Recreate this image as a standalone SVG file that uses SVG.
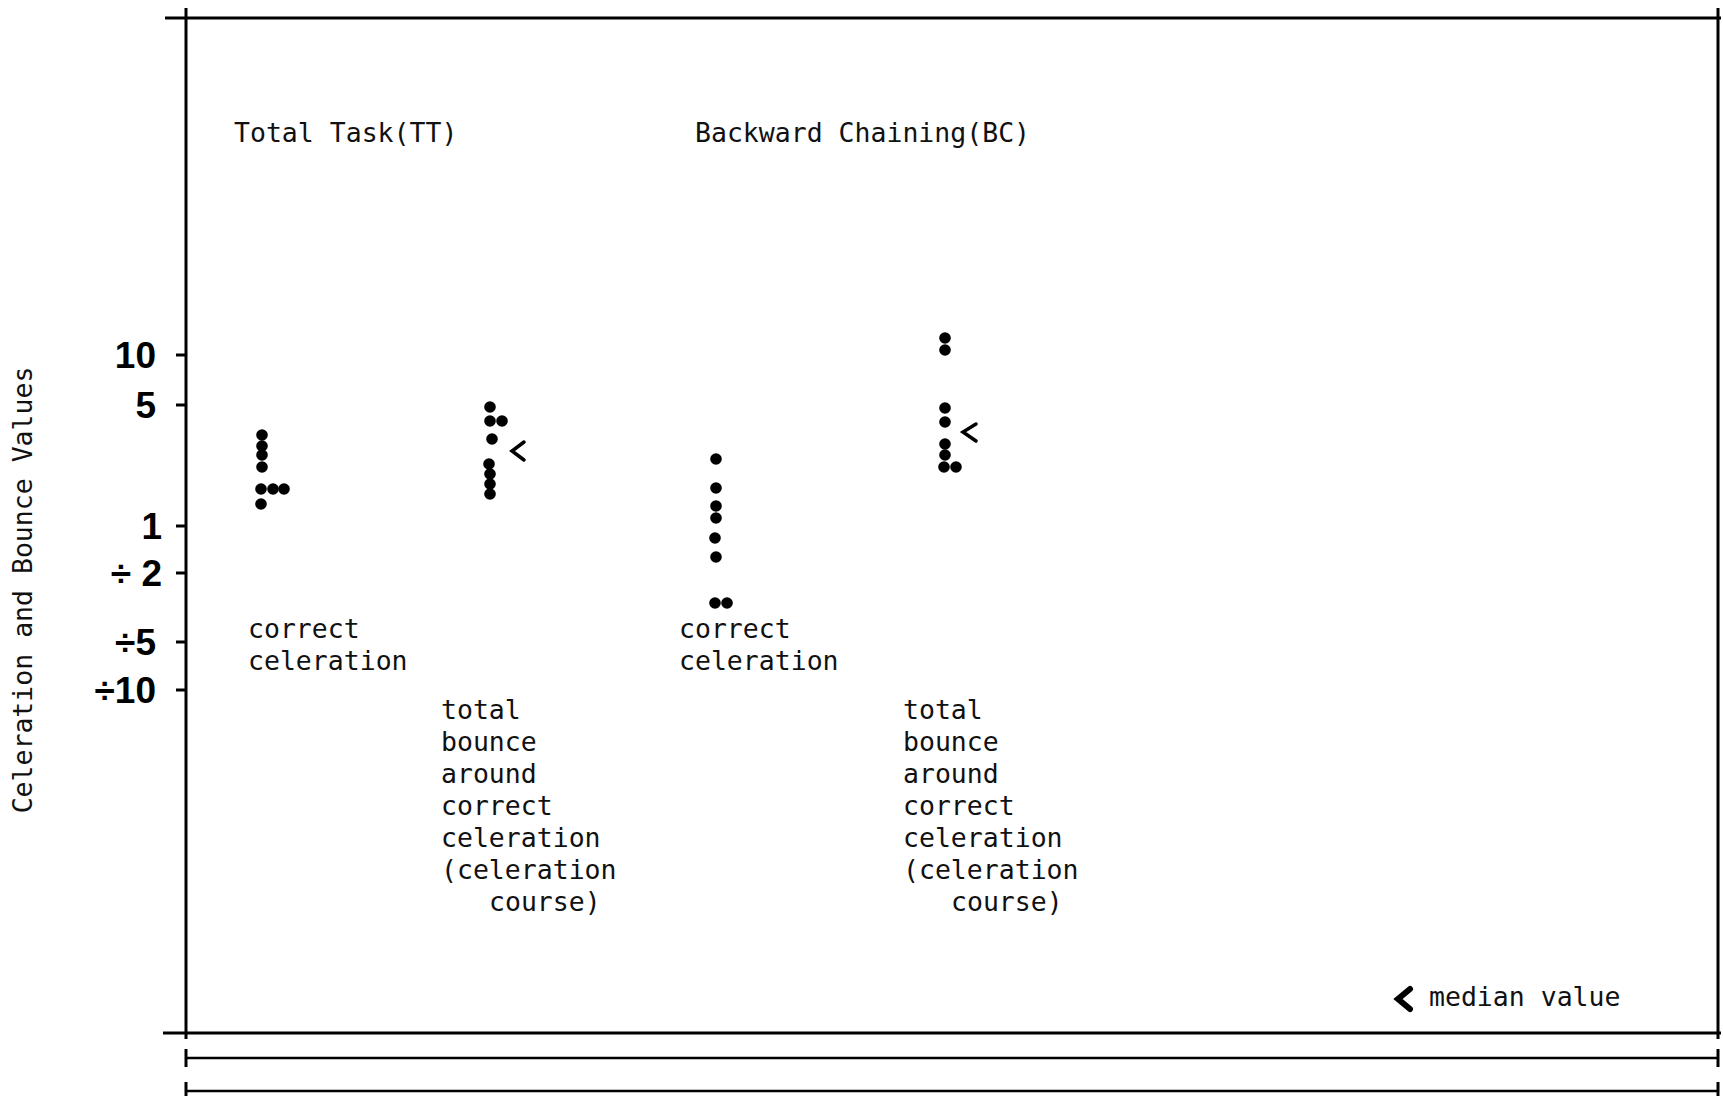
<svg xmlns="http://www.w3.org/2000/svg" width="1723" height="1096" viewBox="0 0 1723 1096">
<style>
.ln{stroke:#000;stroke-width:3;fill:none;stroke-linecap:butt}
.ln2{stroke:#000;stroke-width:2.5;fill:none}
.t{font-family:"DejaVu Sans Mono","Liberation Mono",monospace;font-size:26.5px;fill:#111}
.ax{font-family:"Liberation Sans",Arial,sans-serif;font-weight:bold;font-size:37px;fill:#000;text-anchor:end}
.d{fill:#000}
.chev{stroke:#000;stroke-width:3.5;fill:none;stroke-linecap:round;stroke-linejoin:miter}
</style>
<rect width="1723" height="1096" fill="#fff"/>
<g id="frame">
<line class="ln" x1="165" y1="18" x2="1721" y2="18"/>
<line class="ln" x1="186" y1="8" x2="186" y2="1039"/>
<line class="ln" x1="1718" y1="8" x2="1718" y2="1039"/>
<line class="ln" x1="163" y1="1033" x2="1721" y2="1033"/>
<line class="ln2" x1="186" y1="1058" x2="1718" y2="1058"/>
<line class="ln" x1="186" y1="1049" x2="186" y2="1067"/>
<line class="ln" x1="1718" y1="1049" x2="1718" y2="1067"/>
<line class="ln2" x1="186" y1="1091" x2="1718" y2="1091"/>
<line class="ln" x1="186" y1="1082" x2="186" y2="1096"/>
<line class="ln" x1="1718" y1="1082" x2="1718" y2="1096"/>
</g>
<g id="y-axis">
<line class="ln" x1="176" y1="355" x2="186" y2="355"/>
<line class="ln" x1="176" y1="405" x2="186" y2="405"/>
<line class="ln" x1="176" y1="526" x2="186" y2="526"/>
<line class="ln" x1="176" y1="573" x2="186" y2="573"/>
<line class="ln" x1="176" y1="642" x2="186" y2="642"/>
<line class="ln" x1="176" y1="690" x2="186" y2="690"/>
<text class="ax" x="156" y="368">10</text>
<text class="ax" x="156" y="418">5</text>
<text class="ax" x="162" y="539">1</text>
<text class="ax" x="162" y="586">÷ 2</text>
<text class="ax" x="156" y="655">÷5</text>
<text class="ax" x="156" y="703">÷10</text>
<text class="t" fill="#333" text-anchor="middle" transform="translate(32,590) rotate(-90)">Celeration and Bounce Values</text>
</g>
<g id="titles">
<text class="t" x="234" y="142">Total Task(TT)</text>
<text class="t" x="695" y="142">Backward Chaining(BC)</text>
</g>
<g id="tt-correct">
<circle class="d" cx="262" cy="435" r="5.8"/>
<circle class="d" cx="262" cy="446" r="5.8"/>
<circle class="d" cx="262" cy="455" r="5.8"/>
<circle class="d" cx="262" cy="467" r="5.8"/>
<circle class="d" cx="261" cy="489" r="5.8"/>
<circle class="d" cx="273" cy="489" r="5.8"/>
<circle class="d" cx="284" cy="489" r="5.8"/>
<circle class="d" cx="261" cy="504" r="5.8"/>
<text class="t" x="248" y="638">correct</text>
<text class="t" x="248" y="670">celeration</text>
</g>
<g id="tt-bounce">
<circle class="d" cx="490" cy="407" r="5.8"/>
<circle class="d" cx="490" cy="421" r="5.8"/>
<circle class="d" cx="502" cy="421" r="5.8"/>
<circle class="d" cx="492" cy="439" r="5.8"/>
<circle class="d" cx="489" cy="464" r="5.8"/>
<circle class="d" cx="490" cy="474" r="5.8"/>
<circle class="d" cx="490" cy="484" r="5.8"/>
<circle class="d" cx="490" cy="494" r="5.8"/>
<polyline class="chev" points="524,442 512,451 524,460"/>
<text class="t" x="441" y="719">total</text>
<text class="t" x="441" y="751">bounce</text>
<text class="t" x="441" y="783">around</text>
<text class="t" x="441" y="815">correct</text>
<text class="t" x="441" y="847">celeration</text>
<text class="t" x="441" y="879">(celeration</text>
<text class="t" x="489" y="911">course)</text>
</g>
<g id="bc-correct">
<circle class="d" cx="716" cy="459" r="5.8"/>
<circle class="d" cx="716" cy="488" r="5.8"/>
<circle class="d" cx="716" cy="506" r="5.8"/>
<circle class="d" cx="716" cy="518" r="5.8"/>
<circle class="d" cx="715" cy="538" r="5.8"/>
<circle class="d" cx="716" cy="557" r="5.8"/>
<circle class="d" cx="715" cy="603" r="5.8"/>
<circle class="d" cx="727" cy="603" r="5.8"/>
<text class="t" x="679" y="638">correct</text>
<text class="t" x="679" y="670">celeration</text>
</g>
<g id="bc-bounce">
<circle class="d" cx="945" cy="338" r="5.8"/>
<circle class="d" cx="945" cy="350" r="5.8"/>
<circle class="d" cx="945" cy="408" r="5.8"/>
<circle class="d" cx="945" cy="422" r="5.8"/>
<circle class="d" cx="945" cy="444" r="5.8"/>
<circle class="d" cx="945" cy="455" r="5.8"/>
<circle class="d" cx="944" cy="467" r="5.8"/>
<circle class="d" cx="956" cy="467" r="5.8"/>
<polyline class="chev" points="976,424 963,432 976,441"/>
<text class="t" x="903" y="719">total</text>
<text class="t" x="903" y="751">bounce</text>
<text class="t" x="903" y="783">around</text>
<text class="t" x="903" y="815">correct</text>
<text class="t" x="903" y="847">celeration</text>
<text class="t" x="903" y="879">(celeration</text>
<text class="t" x="951" y="911">course)</text>
</g>
<g id="legend">
<polyline class="chev" style="stroke-width:6" points="1410,989 1398,999 1410,1009"/>
<text class="t" x="1429" y="1006">median value</text>
</g>
</svg>
